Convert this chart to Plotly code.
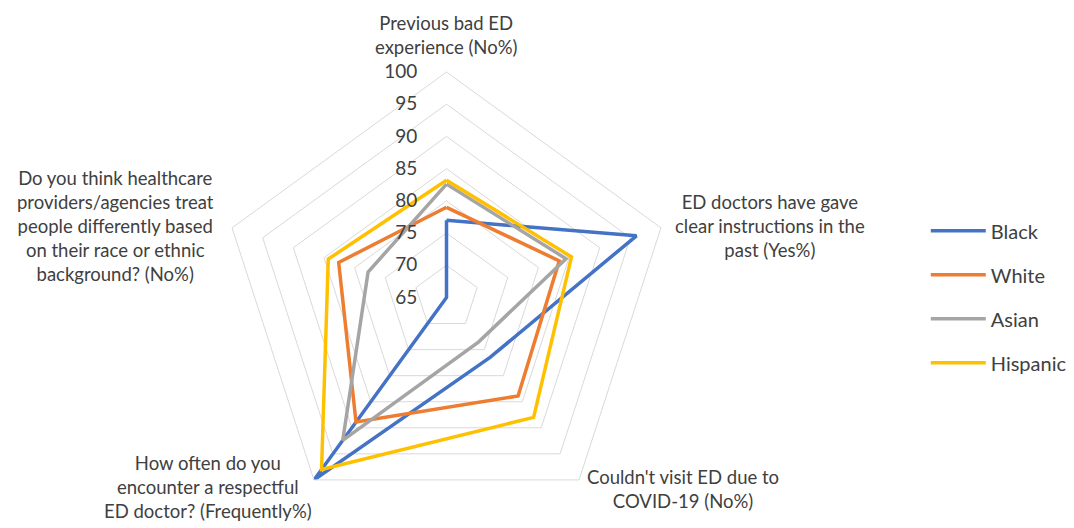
import plotly.graph_objects as go

categories = [
    "Previous bad ED experience (No%)",
    "ED doctors have gave clear instructions in the past (Yes%)",
    "Couldn't visit ED due to COVID-19 (No%)",
    "How often do you encounter a respectful ED doctor? (Frequently%)",
    "Do you think healthcare providers/agencies treat people differently based on their race or ethnic background? (No%)",
]
category_labels = [
    "Previous bad ED<br>experience (No%)",
    "ED doctors have gave<br>clear instructions in the<br>past (Yes%)",
    "Couldn't visit ED due to<br>COVID-19 (No%)",
    "How often do you<br>encounter a respectful<br>ED doctor? (Frequently%)",
    "Do you think healthcare<br>providers/agencies treat<br>people differently based<br>on their race or ethnic<br>background? (No%)",
]
black = [77, 96, 76.5, 100, 65]
white = [79, 83.4, 83.9, 88.9, 82.6]
asian = [82.6, 84.5, 73.5, 92.4, 77.8]
hispanic = [83.2, 85.4, 88.0, 98.0, 84.3]
series_names = ["Black", "White", "Asian", "Hispanic"]
series_values = [black, white, asian, hispanic]
colors = ["#4472C4", "#ED7D31", "#A5A5A5", "#FFC000"]
radial_ticks = [65, 70, 75, 80, 85, 90, 95, 100]

# label placement (paper px, centre of text block)
label_pos = [(446, 35), (770, 226), (683, 489), (208, 487), (115, 226)]

W, H = 1074, 528
font_family = "Lato, 'Liberation Sans', sans-serif"
text_color = "#404040"

fig = go.Figure()
for name, vals, col in zip(series_names, series_values, colors):
    fig.add_trace(go.Scatterpolar(
        r=vals + [vals[0]],
        theta=categories + [categories[0]],
        mode="lines",
        name=name,
        legendgroup=name,
        line=dict(color=col, width=3.5),
        hoverinfo="skip",
    ))

for lab, (px, py) in zip(category_labels, label_pos):
    fig.add_annotation(
        x=px / W, y=1 - py / H, xref="paper", yref="paper",
        text=lab, showarrow=False, align="center",
        xanchor="center", yanchor="middle",
        font=dict(size=18.5, color=text_color, family=font_family),
    )

fig.update_layout(
    width=W,
    height=H,
    margin=dict(l=0, r=0, t=0, b=0),
    paper_bgcolor="white",
    plot_bgcolor="white",
    font=dict(family=font_family, color=text_color, size=18),
    polar=dict(
        domain=dict(x=[0.2058, 0.6257], y=[0.0095, 0.8636]),
        gridshape="linear",
        bgcolor="white",
        radialaxis=dict(
            range=[65, 100],
            tickvals=radial_ticks,
            angle=90,
            tickangle=90,
            side="counterclockwise",
            showline=False,
            showgrid=True,
            gridcolor="#D9D9D9",
            gridwidth=1,
            ticks="outside",
            ticklen=22,
            tickcolor="rgba(0,0,0,0)",
            tickfont=dict(size=19, color=text_color),
        ),
        angularaxis=dict(
            direction="clockwise",
            rotation=90,
            showgrid=False,
            showline=True,
            linecolor="#D9D9D9",
            linewidth=1,
            ticks="",
            showticklabels=False,
        ),
    ),
    showlegend=True,
    legend=dict(
        x=0.862, y=0.6, xanchor="left", yanchor="top",
        font=dict(size=20, color=text_color),
        tracegroupgap=15,
        itemwidth=55,
        bgcolor="rgba(0,0,0,0)",
    ),
)

fig.write_html("out.html")
